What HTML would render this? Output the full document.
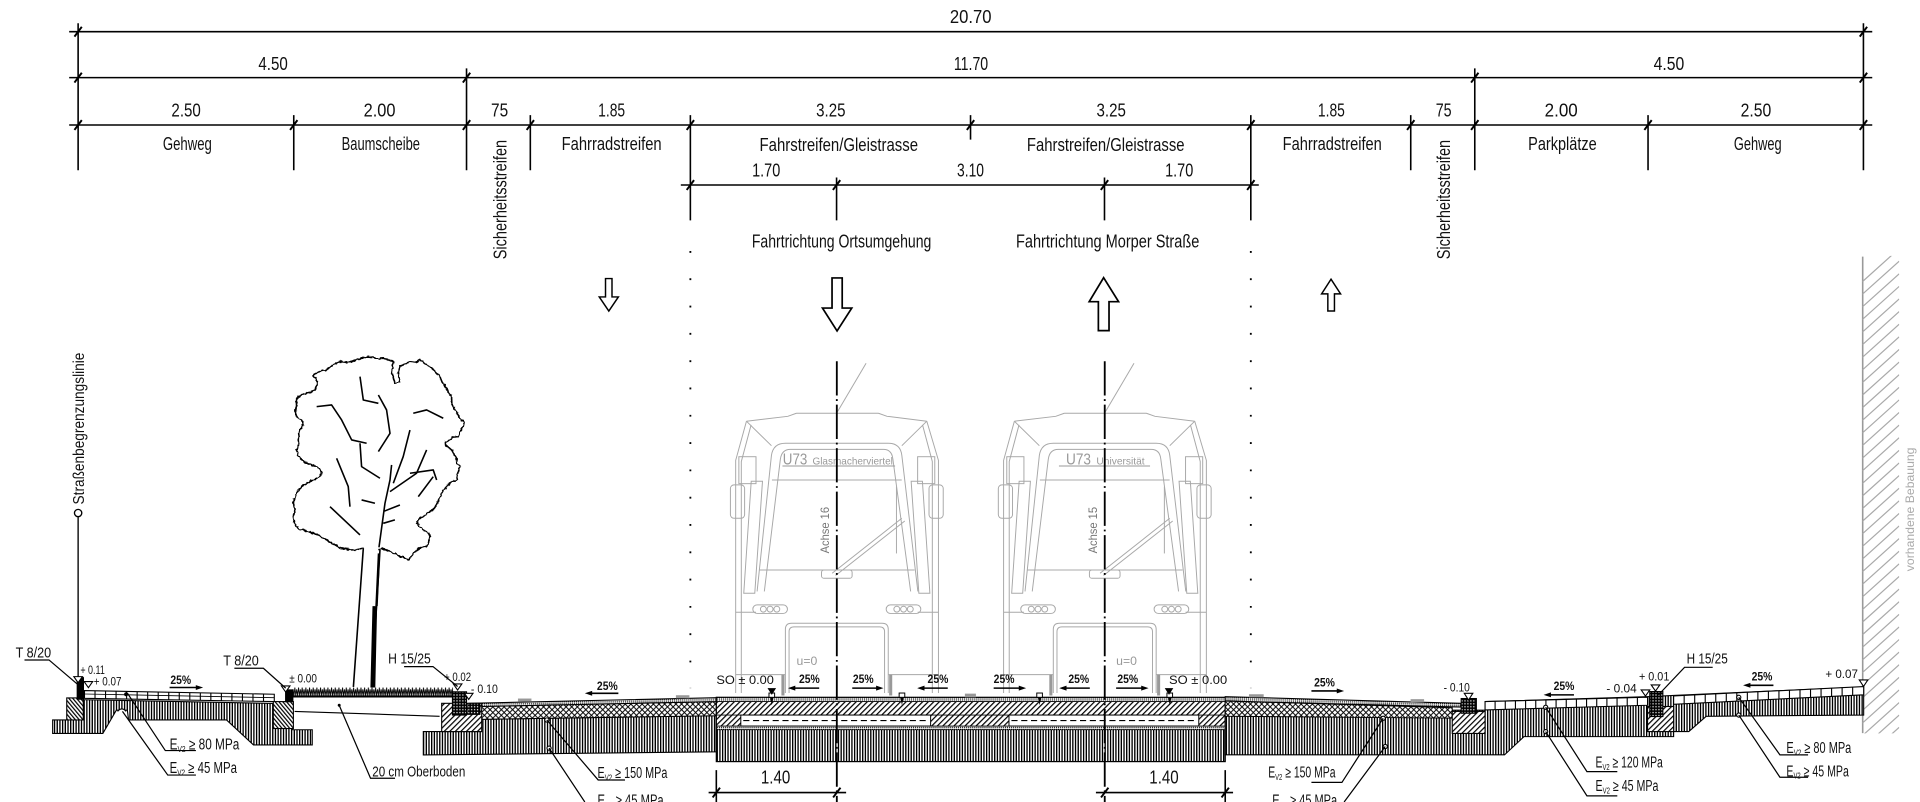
<!DOCTYPE html>
<html><head><meta charset="utf-8">
<style>
html,body{margin:0;padding:0;background:#fff;}
svg{display:block;}
text{font-family:"Liberation Sans Narrow","Liberation Sans",sans-serif;fill:#111;}
</style></head><body>
<svg width="1920" height="802" viewBox="0 0 1568 655" preserveAspectRatio="none" xmlns="http://www.w3.org/2000/svg">
<defs>
<pattern id="vh" width="2.2" height="10" patternUnits="userSpaceOnUse"><rect width="2.2" height="10" fill="#fff"/><rect x="0" y="0" width="1.1" height="10" fill="#000"/></pattern>
<pattern id="dh" width="3.2" height="3.2" patternUnits="userSpaceOnUse" patternTransform="rotate(45)"><rect width="3.2" height="3.2" fill="#fff"/><rect width="1" height="3.2" fill="#000"/></pattern>
<pattern id="dh2" width="2.4" height="2.4" patternUnits="userSpaceOnUse" patternTransform="rotate(-40)"><rect width="2.4" height="2.4" fill="#fff"/><rect width="1" height="2.4" fill="#000"/></pattern>
<pattern id="xh" width="4.6" height="4.6" patternUnits="userSpaceOnUse"><rect width="4.6" height="4.6" fill="#fff"/><path d="M0 0L4.6 4.6M4.6 0L0 4.6" stroke="#000" stroke-width="0.8"/></pattern>
<pattern id="gr" width="2.4" height="2.4" patternUnits="userSpaceOnUse"><rect width="2.4" height="2.4" fill="#000"/><rect x="0.7" y="0.7" width="1" height="1" fill="#fff"/></pattern>
<pattern id="dt" width="1.6" height="1.6" patternUnits="userSpaceOnUse"><rect width="1.6" height="1.6" fill="#fff"/><rect width="0.9" height="0.9" fill="#000"/></pattern>
<pattern id="grass" width="3" height="8" patternUnits="userSpaceOnUse"><path d="M0 8L0.8 1.5L1.5 8L2.3 3L3 8" fill="none" stroke="#000" stroke-width="0.7"/></pattern>
<filter id="wig" x="-10%" y="-10%" width="120%" height="120%"><feTurbulence type="fractalNoise" baseFrequency="0.45" numOctaves="1" seed="4"/><feDisplacementMap in="SourceGraphic" scale="2.6" xChannelSelector="R" yChannelSelector="G"/></filter>
<clipPath id="wallclip"><rect x="1521" y="209" width="30" height="390"/></clipPath>
<g id="tram" fill="none" stroke="#a8a8a8" stroke-width="0.8">
 <path d="M23.9,296.7 L0.6,336.2"/>
 <path d="M-33,337.5 L34,337.5 M-33,337.5 L-40,340 L-73.8,344 M34,337.5 L41,340 L73.5,344"/>
 <path d="M-73.8,344 L-82.6,376 L-82.6,566 M73.5,344 L83,376 L83,566"/>
 <path d="M-70,347 L-78,377 L-78,566 M70,347 L78,377 L78,566"/>
 <path d="M-73.8,344 L-53.4,364 M73.5,344 L53.1,364"/>
 <path d="M-65.1,483 L-53.4,372 Q-52,362 -42,362 L42,362 Q52,362 53.1,372 L66.2,483"/>
 <path d="M-59.2,483 L-46.1,375 Q-45,367 -38,367 L38,367 Q45,367 45.8,375 L60.3,483"/>
 <path d="M-53,392 L53,392 M-63.5,465.5 L63.5,465.5"/>
 <path d="M-69.9,393 L-60.7,393 L-67,484.5 L-76,484.5 Z M69.9,393 L60.7,393 L67,484.5 L76,484.5 Z"/>
 <rect x="-80" y="373" width="14" height="22"/><rect x="66" y="373" width="14" height="22"/>
 <rect x="-86.9" y="396" width="11.6" height="27.3" rx="3"/><rect x="75.3" y="396" width="11.6" height="27.3" rx="3"/>
 <path d="M-3.8,468.2 L53.1,423.3 M-1,470 L55.5,425.5"/>
 <rect x="-12.5" y="465.5" width="25" height="6.8" rx="2"/>
 <path d="M48.7,397.4 L48.7,452"/>
 <rect x="-68.6" y="494" width="28.3" height="7" rx="3.5"/>
 <circle cx="-60" cy="497.5" r="2.4"/><circle cx="-54.5" cy="497.5" r="2.4"/><circle cx="-49" cy="497.5" r="2.4"/>
 <rect x="40.3" y="494" width="28.3" height="7" rx="3.5"/>
 <circle cx="49" cy="497.5" r="2.4"/><circle cx="54.5" cy="497.5" r="2.4"/><circle cx="60" cy="497.5" r="2.4"/>
 <path d="M-42,566 L-42,514 Q-42,509 -37,509 L37,509 Q42,509 42,514 L42,566"/>
 <path d="M-39,566 L-39,516 Q-39,512 -35,512 L35,512 Q39,512 39,516 L39,566"/>
 <path d="M-82.6,551 L-42,551 M42,551 L83,551 M-82.6,500 L-66,500 M66,500 L83,500"/>
 <path d="M-44,551 L-44,568 M44,551 L44,568" stroke-width="2.5" stroke="#999"/>
</g>
</defs>

<!-- ============ DIMENSIONS ============ -->
<g stroke="#000" stroke-width="1.3" fill="none">
 <path d="M56.5,25.9 H1529 M56.5,63.4 H1529 M56.5,102.1 H1529 M556,151.1 H1028"/>
 <path d="M63.8,19 V139 M239.9,94 V139 M381,55.8 V139 M433.1,94 V139 M563.8,94 V180 M792.6,94 V114 M1021.5,94 V180 M1152.1,94 V139 M1204.4,55.8 V139 M1345.9,94 V139 M1521.8,19 V139 M683.2,145 V180 M902,145 V180"/>
 <path stroke-width="1.6" d="M60.8,29.9 l6,-8 M1518.8,29.9 l6,-8 M60.8,67.4 l6,-8 M378,67.4 l6,-8 M1201.4,67.4 l6,-8 M1518.8,67.4 l6,-8 M60.8,106.1 l6,-8 M236.9,106.1 l6,-8 M378,106.1 l6,-8 M430.1,106.1 l6,-8 M560.8,106.1 l6,-8 M789.6,106.1 l6,-8 M1018.5,106.1 l6,-8 M1149.1,106.1 l6,-8 M1201.4,106.1 l6,-8 M1342.9,106.1 l6,-8 M1518.8,106.1 l6,-8 M560.8,155.1 l6,-8 M680.2,155.1 l6,-8 M899,155.1 l6,-8 M1018.5,155.1 l6,-8"/>
</g>
<g font-size="15" text-anchor="middle">
 <text x="792.7" y="19" textLength="34" lengthAdjust="spacingAndGlyphs">20.70</text>
 <text x="223" y="57" textLength="24" lengthAdjust="spacingAndGlyphs">4.50</text>
 <text x="793" y="57" textLength="28" lengthAdjust="spacingAndGlyphs">11.70</text>
 <text x="1363" y="57" textLength="25" lengthAdjust="spacingAndGlyphs">4.50</text>
 <text x="152" y="95.3" textLength="24" lengthAdjust="spacingAndGlyphs">2.50</text>
 <text x="310" y="95.3" textLength="26" lengthAdjust="spacingAndGlyphs">2.00</text>
 <text x="408" y="95.3" textLength="14" lengthAdjust="spacingAndGlyphs">75</text>
 <text x="499.5" y="95.3" textLength="22" lengthAdjust="spacingAndGlyphs">1.85</text>
 <text x="678.5" y="95.3" textLength="24" lengthAdjust="spacingAndGlyphs">3.25</text>
 <text x="907.5" y="95.3" textLength="24" lengthAdjust="spacingAndGlyphs">3.25</text>
 <text x="1087.3" y="95.3" textLength="22" lengthAdjust="spacingAndGlyphs">1.85</text>
 <text x="1179" y="95.3" textLength="13" lengthAdjust="spacingAndGlyphs">75</text>
 <text x="1275" y="95.3" textLength="27" lengthAdjust="spacingAndGlyphs">2.00</text>
 <text x="1434" y="95.3" textLength="25" lengthAdjust="spacingAndGlyphs">2.50</text>
 <text x="153" y="122.5" textLength="40" lengthAdjust="spacingAndGlyphs">Gehweg</text>
 <text x="311" y="122.5" textLength="64" lengthAdjust="spacingAndGlyphs">Baumscheibe</text>
 <text x="499.5" y="122.5" textLength="81.7" lengthAdjust="spacingAndGlyphs">Fahrradstreifen</text>
 <text x="685" y="123.5" textLength="129.4" lengthAdjust="spacingAndGlyphs">Fahrstreifen/Gleistrasse</text>
 <text x="903" y="123.5" textLength="128.7" lengthAdjust="spacingAndGlyphs">Fahrstreifen/Gleistrasse</text>
 <text x="1088" y="122.5" textLength="81" lengthAdjust="spacingAndGlyphs">Fahrradstreifen</text>
 <text x="1276" y="122.5" textLength="56" lengthAdjust="spacingAndGlyphs">Parkplätze</text>
 <text x="1435.5" y="122.5" textLength="39" lengthAdjust="spacingAndGlyphs">Gehweg</text>
 <text x="625.7" y="144.3" textLength="23" lengthAdjust="spacingAndGlyphs">1.70</text>
 <text x="792.6" y="144.3" textLength="22" lengthAdjust="spacingAndGlyphs">3.10</text>
 <text x="963" y="144.3" textLength="23" lengthAdjust="spacingAndGlyphs">1.70</text>
 <text x="687.3" y="202" textLength="146.6" lengthAdjust="spacingAndGlyphs">Fahrtrichtung Ortsumgehung</text>
 <text x="904.6" y="202" textLength="149.7" lengthAdjust="spacingAndGlyphs">Fahrtrichtung Morper Straße</text>
 <text transform="translate(413.5,163) rotate(-90)" textLength="97.5" lengthAdjust="spacingAndGlyphs">Sicherheitsstreifen</text>
 <text transform="translate(1184,163) rotate(-90)" textLength="97.5" lengthAdjust="spacingAndGlyphs">Sicherheitsstreifen</text>
 <text transform="translate(68.5,350) rotate(-90)" font-size="13" textLength="124" lengthAdjust="spacingAndGlyphs">Straßenbegrenzungslinie</text>
</g>

<!-- dotted lines -->
<path d="M563.8,205 V562 M1021.5,205 V562" stroke="#000" stroke-width="1.5" stroke-dasharray="1.5 20.8" fill="none"/>

<!-- arrows -->
<g stroke="#000" stroke-width="1.4" fill="#fff" stroke-linejoin="miter">
 <path d="M679.5,227 L687.8,227 L687.8,251.6 L695.6,251.6 L683.6,270.3 L671.7,251.6 L679.5,251.6 Z"/>
 <path d="M901.3,226.8 L913.5,246.4 L905.7,246.4 L905.7,270 L897,270 L897,246.4 L889.5,246.4 Z"/>
 <path d="M494.5,227.5 L499.8,227.5 L499.8,242.5 L505,242.5 L497.2,254 L489.4,242.5 L494.5,242.5 Z" stroke-width="1.2"/>
 <path d="M1087,228 L1094.8,240 L1089.8,240 L1089.8,254 L1084.4,254 L1084.4,240 L1079.3,240 Z" stroke-width="1.2"/>
</g>

<!-- building wall -->
<path d="M1521.2,209.6 V598.7" stroke="#999" stroke-width="1.3"/>
<g clip-path="url(#wallclip)" stroke="#aaa" stroke-width="1">
 <path d="M1521,230 l30,-27 M1521,240.3 l30,-27 M1521,250.6 l30,-27 M1521,260.9 l30,-27 M1521,271.2 l30,-27 M1521,281.5 l30,-27 M1521,291.8 l30,-27 M1521,302.1 l30,-27 M1521,312.4 l30,-27 M1521,322.7 l30,-27 M1521,333 l30,-27 M1521,343.3 l30,-27 M1521,353.6 l30,-27 M1521,363.9 l30,-27 M1521,374.2 l30,-27 M1521,384.5 l30,-27 M1521,394.8 l30,-27 M1521,405.1 l30,-27 M1521,415.4 l30,-27 M1521,425.7 l30,-27 M1521,436 l30,-27 M1521,446.3 l30,-27 M1521,456.6 l30,-27 M1521,466.9 l30,-27 M1521,477.2 l30,-27 M1521,487.5 l30,-27 M1521,497.8 l30,-27 M1521,508.1 l30,-27 M1521,518.4 l30,-27 M1521,528.7 l30,-27 M1521,539 l30,-27 M1521,549.3 l30,-27 M1521,559.6 l30,-27 M1521,569.9 l30,-27 M1521,580.2 l30,-27 M1521,590.5 l30,-27 M1521,600.8 l30,-27 M1521,611 l30,-27 M1521,621 l30,-27"/>
</g>
<text transform="translate(1563,416) rotate(-90)" font-size="10" text-anchor="middle" textLength="101" lengthAdjust="spacingAndGlyphs" style="fill:#aaa">vorhandene Bebauung</text>

<!-- Straßenbegrenzungslinie marker -->
<circle cx="63.8" cy="419" r="3" fill="#fff" stroke="#000" stroke-width="1.1"/>
<path d="M63.8,422 V556" stroke="#000" stroke-width="1.1"/>

<!-- trams -->
<use href="#tram" transform="translate(683.4,0)"/>
<use href="#tram" transform="translate(902.2,0)"/>
<g>
 <text x="639.3" y="379.5" font-size="12.5" textLength="20" lengthAdjust="spacingAndGlyphs" style="fill:#999">U73</text>
 <text x="663.5" y="379.5" font-size="8.5" textLength="65.7" lengthAdjust="spacingAndGlyphs" style="fill:#999">Glasmacherviertel</text>
 <text x="870.6" y="379.5" font-size="12.5" textLength="20.4" lengthAdjust="spacingAndGlyphs" style="fill:#999">U73</text>
 <text x="895.4" y="379.5" font-size="8.5" textLength="39.4" lengthAdjust="spacingAndGlyphs" style="fill:#999">Universität</text>
 <text transform="translate(677,433) rotate(-90)" font-size="10" text-anchor="middle" textLength="38" lengthAdjust="spacingAndGlyphs" style="fill:#777">Achse 16</text>
 <text transform="translate(895.8,433) rotate(-90)" font-size="10" text-anchor="middle" textLength="38" lengthAdjust="spacingAndGlyphs" style="fill:#777">Achse 15</text>
 <text x="659" y="543" font-size="10" text-anchor="middle" style="fill:#999">u=0</text>
 <text x="920" y="543" font-size="10" text-anchor="middle" style="fill:#999">u=0</text>
</g>
<path d="M639,380.6 H731 M864.8,380.6 H939.2" stroke="#999" stroke-width="0.8"/>

<!-- tree -->
<g fill="none" stroke="#000" stroke-width="1.3" stroke-linejoin="round">
 <path filter="url(#wig)" d="M309,449 L312,448 L315.7,449.1 L318,450 L321.2,451.9 L323,452 L326.6,454.6 L329,455 L333.4,457.3 L337,453 L340.2,449.1 L344,447 L348.4,446.4 L350,443 L351.1,438.3 L350,435 L345.7,432.8 L343,430 L340.2,427.4 L342,424 L345.7,421.9 L349,419 L353.8,416.5 L357,411 L359.3,405.6 L362,401 L364.7,397.4 L368,394 L372.9,392 L374,387 L375.6,381.1 L373,378 L372.9,374.3 L371,371 L368.8,367.5 L366,365 L363.4,363.4 L364,361 L367.4,359.3 L370,357 L374.2,356.6 L376,352 L378.3,348.4 L379,345 L375.6,341.6 L374,338 L371.5,334.8 L369,330 L368.8,323.9 L366,320 L364.7,317.1 L361,312 L359.3,307.6 L355,303 L351.1,299.4 L347,297 L343,294 L339,296 L334.8,295.4 L331,297 L326.6,299.4 L325,305 L326.6,311.7 L322.5,313 L320,304 L321.2,295.4 L318,294 L313,292.6 L308,293 L302.1,291.3 L297,292 L291.2,294 L284,296 L277.6,295.4 L272,298 L266.7,302.2 L262,303 L257.2,304.9 L256,307 L258.6,310.3 L259,314 L257.2,318.5 L254,320 L250.4,321.2 L247,322 L243.6,323.9 L242,327 L242.2,332.1 L241,336 L242.2,340.3 L244,342 L247.7,344.4 L247,348 L245,351.2 L244,355 L243.6,359.3 L244,363 L242.2,367.5 L243,371 L245,374.3 L248,377 L251.8,378.4 L255,380 L258.6,381.1 L261,383 L262.7,386.5 L261,389 L258.6,390.6 L256,392 L253.1,393.3 L250,395 L246.3,397.4 L244,400 L242.2,402.9 L241,406 L239.5,411 L241,416 L239.5,421.9 L240,426 L242.2,430.1 L244,432 L247.7,432.8 L251,434 L255.8,435.5 L260,437 L264,439.6 L267,441 L270.8,443.7 L274,445 L277.6,447.8 L281,448 L285.8,449.1 L291,449 L296.7,447.8"/>
 <path d="M274.9,374.3 L284.4,397.4 L285.8,413.8 M269.5,413.8 L294,436.9 M309,322.6 L315.7,334.8 L318.5,353.9 L309,368.8 M294,362 L295.3,381.1 L310.3,390.6 M319.8,379.7 L318.5,392 L314.4,411 L309.5,447 M321.2,394.7 L329.3,372.9 L334.8,351.2 M348.4,367.5 L340.2,386.5 L318.5,401.5 M313,417.8 L326.6,412.4 M313,427.4 L322.5,424.6 M295.3,408.3 L306.2,411 M341.6,405.6 L353.8,389.3 M258.6,332.1 L270.8,330.7 L279,343 L287.2,359.3 L299.4,362 M294,307.6 L296.7,326.7 L309,329.4 M337.5,337.5 L348.4,334.8 L362,341.6 M334.8,386.5 L353.8,383.8 L356.6,392"/>
 <path d="M296.7,447.8 C294,490 291,530 288.6,561 M310.3,449.2 C308,490 305,530 303.8,561"/>
 <path d="M309.5,452 L307.5,495" stroke-width="2"/>
</g>
<path d="M304.2,495 L308,495 L307.2,530 L306.5,561.5 L302.5,561.5 L303.3,530 Z" fill="#000"/>

<!-- ============ GROUND ============ -->
<!-- left sidewalk body -->
<path d="M43,599 L84,599 L95,580 L104,580 L105,588 L185,588 L207,608.4 L255,608.4 L255,596 L239,596 L239,573 L224,574.5 L69,571.5 L55,571 L55,588 L43,588 Z" fill="url(#vh)" stroke="#000" stroke-width="0.9"/>
<path d="M69,564 L224,567 L224,573 L69,570.3 Z" fill="#fff" stroke="#000" stroke-width="0.9"/>
<path d="M69,566.8 L224,569.8" stroke="#000" stroke-width="0.7"/>
<path d="M77.6,564.2V570.4M86.2,564.3V570.6M94.8,564.5V570.8M103.4,564.7V571M112,564.8V571.1M120.6,565V571.3M129.2,565.2V571.5M137.8,565.3V571.6M146.4,565.5V571.8M155,565.7V572M163.6,565.8V572.1M172.2,566V572.3M180.8,566.2V572.5M189.4,566.3V572.6M198,566.5V572.8M206.6,566.7V573M215.2,566.8V573" stroke="#000" stroke-width="0.9"/>
<rect x="54.5" y="570" width="13.5" height="18" fill="url(#dh2)" stroke="#000" stroke-width="0.9"/>
<rect x="62.6" y="553" width="6" height="18.5" fill="#000"/>
<rect x="223.2" y="573" width="16.4" height="22" fill="url(#dh2)" stroke="#000" stroke-width="0.9"/>
<rect x="232.8" y="563" width="6.8" height="10.5" fill="#000"/>
<path d="M96,581 Q99.5,577 103,581" fill="#fff" stroke="#000" stroke-width="1"/>
<circle cx="103" cy="567" r="1.6" fill="#000"/>

<!-- tree pit -->
<rect x="239" y="561" width="131" height="8" fill="url(#grass)"/>
<path d="M239,568.8 H370" stroke="#000" stroke-width="1.8"/>
<path d="M240.6,581 L359,585" stroke="#000" stroke-width="0.9"/>
<circle cx="277" cy="576" r="1.2" fill="#000"/>

<!-- left road -->
<path d="M345.7,597.5 L393,597.5 L393,587.5 L585,584.5 L585,614 L345.7,616.6 Z" fill="url(#vh)" stroke="#000" stroke-width="0.9"/>
<path d="M392,577 L585,573 L585,584.5 L392,587.5 Z" fill="url(#xh)" stroke="#000" stroke-width="0.8"/>
<path d="M383,574.4 L585,569.8 L585,573 L392,577 L383,577 Z" fill="url(#dt)" stroke="#000" stroke-width="0.9"/>
<rect x="423" y="570.5" width="11" height="2.5" fill="#999"/>
<rect x="552" y="567.8" width="11" height="2.5" fill="#999"/>
<rect x="360.7" y="574.4" width="32.7" height="23.1" fill="url(#dh)" stroke="#000" stroke-width="0.9"/>
<rect x="369.5" y="565" width="11.5" height="19" fill="url(#gr)" stroke="#000" stroke-width="0.9"/>
<rect x="382" y="574.5" width="10" height="9" fill="url(#gr)" stroke="#000" stroke-width="0.7"/>

<!-- track slab -->
<rect x="585" y="569.5" width="415.6" height="3.5" fill="url(#dt)"/>
<rect x="585" y="573" width="415.6" height="20" fill="url(#dh)"/>
<rect x="605" y="584" width="155" height="9" fill="#fff" stroke="#000" stroke-width="0.8"/>
<rect x="824" y="584" width="155" height="9" fill="#fff" stroke="#000" stroke-width="0.8"/>
<path d="M607,588.5 H758 M826,588.5 H977" stroke="#000" stroke-width="0.9" stroke-dasharray="5 3"/>
<rect x="585" y="593" width="415.6" height="3" fill="url(#dt)"/>
<rect x="585" y="596" width="415.6" height="26" fill="url(#vh)"/>
<rect x="585" y="569.5" width="415.6" height="52.5" fill="none" stroke="#000" stroke-width="1"/>
<path d="M585,573 H1000.6 M585,584 H1000.6 M585,593 H1000.6 M585,596 H1000.6" stroke="#000" stroke-width="0.7"/>
<rect x="788" y="566.5" width="9" height="3" fill="#999"/>
<g fill="#fff" stroke="#000" stroke-width="0.8">
 <rect x="628" y="566" width="4.6" height="3.5"/><rect x="734.3" y="566" width="4.6" height="3.5"/>
 <rect x="846.7" y="566" width="4.6" height="3.5"/><rect x="953" y="566" width="4.6" height="3.5"/>
</g>
<path d="M629,570 l1.3,6 l1.3,-6 Z M735.3,570 l1.3,6 l1.3,-6 Z M847.7,570 l1.3,6 l1.3,-6 Z M954,570 l1.3,6 l1.3,-6 Z" fill="#000"/>

<!-- right side body -->
<path d="M1000.6,580 L1212.8,580 L1212.8,573 L1345,569 L1366.8,568 L1522,561 L1522,584 L1393.4,585 L1379.2,597.5 L1366.8,597.5 L1366.8,601.6 L1244.6,601.6 L1228.7,616.5 L1000.6,616.5 Z" fill="url(#vh)" stroke="#000" stroke-width="0.9"/>
<path d="M1000.6,572.5 L1186,578 L1186,586.5 L1000.6,585 Z" fill="url(#xh)" stroke="#000" stroke-width="0.8"/>
<path d="M1000.6,569 L1193,574.4 L1193,577.5 L1000.6,572.5 Z" fill="url(#dt)" stroke="#000" stroke-width="0.9"/>
<rect x="1020" y="567" width="12" height="2.5" fill="#999"/>
<rect x="1152" y="571" width="11" height="2.5" fill="#999"/>
<rect x="1186" y="581" width="26.8" height="18" fill="url(#dh)" stroke="#000" stroke-width="0.9"/>
<rect x="1193.3" y="570.5" width="12.4" height="12" fill="url(#gr)" stroke="#000" stroke-width="0.9"/>
<path d="M1212.8,573 L1345.5,569.4 L1345.5,576 L1212.8,579.8 Z" fill="#fff" stroke="#000" stroke-width="0.9"/>
<path d="M1221,572.8V579.6M1229.3,572.6V579.3M1237.6,572.3V579.1M1245.9,572.1V578.9M1254.2,571.9V578.6M1262.5,571.7V578.4M1270.8,571.4V578.2M1279.1,571.2V577.9M1287.4,571V577.7M1295.7,570.8V577.5M1304,570.5V577.2M1312.3,570.3V577M1320.6,570.1V576.8M1328.9,569.9V576.5M1337.2,569.6V576.3" stroke="#000" stroke-width="0.9"/>
<rect x="1345.5" y="577" width="21.3" height="20.5" fill="url(#dh)" stroke="#000" stroke-width="0.9"/>
<rect x="1347.3" y="564.8" width="10.7" height="20.4" fill="url(#gr)" stroke="#000" stroke-width="0.9"/>
<path d="M1366.8,568.4 L1522,560.7 L1522,567.5 L1366.8,575.2 Z" fill="#fff" stroke="#000" stroke-width="0.9"/>
<path d="M1375.4,568V574.8M1384,567.6V574.4M1392.6,567.1V573.9M1401.2,566.7V573.5M1409.8,566.3V573.1M1418.4,565.9V572.7M1427,565.4V572.2M1435.6,565V571.8M1444.2,564.6V571.4M1452.8,564.2V571M1461.4,563.7V570.5M1470,563.3V570.1M1478.6,562.9V569.7M1487.2,562.5V569.3M1495.8,562V568.8M1504.4,561.6V568.4M1513,561.2V568" stroke="#000" stroke-width="0.9"/>
<g fill="#fff" stroke="#000" stroke-width="0.9">
 <circle cx="1262.3" cy="577.6" r="1.7"/><circle cx="1262.3" cy="597.5" r="1.7"/>
 <circle cx="1420" cy="569.5" r="1.7"/><circle cx="1420" cy="584" r="1.7"/>
 <circle cx="446.6" cy="588" r="1.7"/><circle cx="448.4" cy="611" r="1.7"/>
 <circle cx="1129.6" cy="586.6" r="1.7"/><circle cx="1131.3" cy="609.7" r="1.7"/>
</g>

<!-- axes dash-dot -->
<path d="M683.4,295 V655 M902.2,295 V655" stroke="#000" stroke-width="1.5" stroke-dasharray="28 3 1.5 3"/>

<!-- 1.40 dims -->
<g stroke="#000" stroke-width="1.3" fill="none">
 <path d="M578.7,647.3 H691 M895,647.3 H1007 M585,629 V655 M1000.6,629 V655"/>
 <path stroke-width="1.6" d="M582,651.3 l6,-8 M680.4,651.3 l6,-8 M899.2,651.3 l6,-8 M997.6,651.3 l6,-8"/>
</g>
<text x="633.4" y="639.7" font-size="15" text-anchor="middle" textLength="24" lengthAdjust="spacingAndGlyphs">1.40</text>
<text x="950.6" y="639.7" font-size="15" text-anchor="middle" textLength="24" lengthAdjust="spacingAndGlyphs">1.40</text>

<!-- level triangles -->
<g fill="#fff" stroke="#000" stroke-width="0.9">
 <path d="M60.3,552.6 h7 l-3.5,5 Z M68.7,556.6 h7 l-3.5,5 Z M229.8,560.2 h7 l-3.5,5 Z M370.2,558.6 h7 l-3.5,5 Z M379.3,566.2 h7 l-3.5,5 Z M1195.8,566.2 h7 l-3.5,5.5 Z M1340.3,563.5 h7 l-3.5,5 Z M1348.5,559.4 h7 l-3.5,5 Z M1518.4,555.3 h7 l-3.5,5.3 Z"/>
</g>
<path d="M626.8,562 h7 l-3.5,5.5 Z M951.2,562 h7 l-3.5,5.5 Z" fill="#000"/>

<!-- level labels -->
<g font-size="9.5">
 <text x="65.6" y="550.4" textLength="20" lengthAdjust="spacingAndGlyphs">+ 0.11</text>
 <text x="76.6" y="560" textLength="22.6" lengthAdjust="spacingAndGlyphs">+ 0.07</text>
 <text x="236.2" y="557.5" textLength="22.6" lengthAdjust="spacingAndGlyphs">± 0.00</text>
 <text x="362.7" y="556" textLength="22" lengthAdjust="spacingAndGlyphs">+ 0.02</text>
 <text x="384.6" y="566" textLength="22" lengthAdjust="spacingAndGlyphs">- 0.10</text>
 <text x="585" y="558.6" textLength="47" lengthAdjust="spacingAndGlyphs">SO ± 0.00</text>
 <text x="954.7" y="558.6" textLength="47.5" lengthAdjust="spacingAndGlyphs">SO ± 0.00</text>
 <text x="1179" y="564.8" textLength="21.4" lengthAdjust="spacingAndGlyphs">- 0.10</text>
 <text x="1311.9" y="565.6" textLength="24.8" lengthAdjust="spacingAndGlyphs">- 0.04</text>
 <text x="1338.5" y="555.8" textLength="24.8" lengthAdjust="spacingAndGlyphs">+ 0.01</text>
 <text x="1490.7" y="553.9" textLength="26.6" lengthAdjust="spacingAndGlyphs">+ 0.07</text>
</g>

<!-- curb labels -->
<g font-size="12">
 <text x="12.8" y="536.8" textLength="29" lengthAdjust="spacingAndGlyphs">T 8/20</text>
 <text x="182.3" y="543.5" textLength="29" lengthAdjust="spacingAndGlyphs">T 8/20</text>
 <text x="317" y="541.7" textLength="34.8" lengthAdjust="spacingAndGlyphs">H 15/25</text>
 <text x="1377.4" y="541.7" textLength="33.6" lengthAdjust="spacingAndGlyphs">H 15/25</text>
 <text x="304" y="634.2" textLength="76" lengthAdjust="spacingAndGlyphs">20 cm Oberboden</text>
</g>
<g stroke="#000" stroke-width="1" fill="none">
 <path d="M20,539 H40 L64.9,560.2"/>
 <path d="M191.4,545.8 H215.1 L233.3,562"/>
 <path d="M330,544.4 H353.6 L373.7,560.7"/>
 <path d="M1398.7,545 H1375.7 L1354.4,567.5"/>
 <path d="M277,576 L302.6,635.6 H322.6"/>
 <path d="M104,566 L135,613 H160 M100,581 L137,633 H160"/>
 <path d="M446.6,588 L488.5,637 H510.4 M448.4,611 L477.6,655"/>
 <path d="M1129.6,586.6 L1095.9,639 H1071 M1131.3,609.7 L1097.7,655"/>
 <path d="M1262.3,577.6 L1296,630.2 H1320.8 M1262.3,597.5 L1296,650 H1320.8"/>
 <path d="M1420,569.5 L1453.6,616.5 H1476.6 M1420,584 L1453.6,634.8 H1476.6"/>
</g>

<!-- Ev2 labels -->
<g font-size="12.5">
 <text x="138.5" y="612" textLength="57" lengthAdjust="spacingAndGlyphs">E<tspan font-size="7" dy="2">V2</tspan><tspan dy="-2"> ≥ 80 MPa</tspan></text>
 <text x="138.5" y="631.5" textLength="55" lengthAdjust="spacingAndGlyphs">E<tspan font-size="7" dy="2">V2</tspan><tspan dy="-2"> ≥ 45 MPa</tspan></text>
 <text x="488" y="635.5" textLength="57" lengthAdjust="spacingAndGlyphs">E<tspan font-size="7" dy="2">V2</tspan><tspan dy="-2"> ≥ 150 MPa</tspan></text>
 <text x="488" y="658" textLength="54" lengthAdjust="spacingAndGlyphs">E<tspan font-size="7" dy="2">V2</tspan><tspan dy="-2"> ≥ 45 MPa</tspan></text>
 <text x="1035.7" y="635" textLength="55" lengthAdjust="spacingAndGlyphs">E<tspan font-size="7" dy="2">V2</tspan><tspan dy="-2"> ≥ 150 MPa</tspan></text>
 <text x="1039" y="658" textLength="53" lengthAdjust="spacingAndGlyphs">E<tspan font-size="7" dy="2">V2</tspan><tspan dy="-2"> ≥ 45 MPa</tspan></text>
 <text x="1303" y="627" textLength="55" lengthAdjust="spacingAndGlyphs">E<tspan font-size="7" dy="2">V2</tspan><tspan dy="-2"> ≥ 120 MPa</tspan></text>
 <text x="1303" y="646" textLength="51.4" lengthAdjust="spacingAndGlyphs">E<tspan font-size="7" dy="2">V2</tspan><tspan dy="-2"> ≥ 45 MPa</tspan></text>
 <text x="1458.9" y="615" textLength="53" lengthAdjust="spacingAndGlyphs">E<tspan font-size="7" dy="2">V2</tspan><tspan dy="-2"> ≥ 80 MPa</tspan></text>
 <text x="1458.9" y="634" textLength="51" lengthAdjust="spacingAndGlyphs">E<tspan font-size="7" dy="2">V2</tspan><tspan dy="-2"> ≥ 45 MPa</tspan></text>
</g>

<!-- 25% slope labels -->
<g font-size="10" font-weight="bold" text-anchor="middle">
 <text x="147.6" y="558.6" textLength="17" lengthAdjust="spacingAndGlyphs">25%</text>
 <text x="496" y="563.5" textLength="17" lengthAdjust="spacingAndGlyphs">25%</text>
 <text x="661" y="558" textLength="17" lengthAdjust="spacingAndGlyphs">25%</text>
 <text x="705" y="558" textLength="17" lengthAdjust="spacingAndGlyphs">25%</text>
 <text x="766" y="558" textLength="17" lengthAdjust="spacingAndGlyphs">25%</text>
 <text x="820" y="558" textLength="17" lengthAdjust="spacingAndGlyphs">25%</text>
 <text x="881" y="558" textLength="17" lengthAdjust="spacingAndGlyphs">25%</text>
 <text x="921" y="558" textLength="17" lengthAdjust="spacingAndGlyphs">25%</text>
 <text x="1081.7" y="560.7" textLength="17" lengthAdjust="spacingAndGlyphs">25%</text>
 <text x="1277.3" y="563.5" textLength="17" lengthAdjust="spacingAndGlyphs">25%</text>
 <text x="1439" y="555.8" textLength="17" lengthAdjust="spacingAndGlyphs">25%</text>
</g>
<g stroke="#000" stroke-width="1.3">
 <path d="M138.5,561.5 H161 M482,566.2 H505 M648,562 H669 M696,562 H717 M753,562 H774 M811.5,562 H834 M869,562 H890 M911.5,562 H934 M1071,564.3 H1093.7 M1264.6,567.5 H1285.4 M1427.5,559.7 H1448.3"/>
</g>
<path d="M165.9,561.5 l-6,-2 v4 Z M477.6,566.2 l6,-2 v4 Z M643.5,562 l6,-2 v4 Z M721.5,562 l-6,-2 v4 Z M749,562 l6,-2 v4 Z M838,562 l-6,-2 v4 Z M865,562 l6,-2 v4 Z M938,562 l-6,-2 v4 Z M1097.7,564.3 l-6,-2 v4 Z M1260.6,567.5 l6,-2 v4 Z M1423.5,559.7 l6,-2 v4 Z" fill="#000"/>
</svg>
</body></html>
